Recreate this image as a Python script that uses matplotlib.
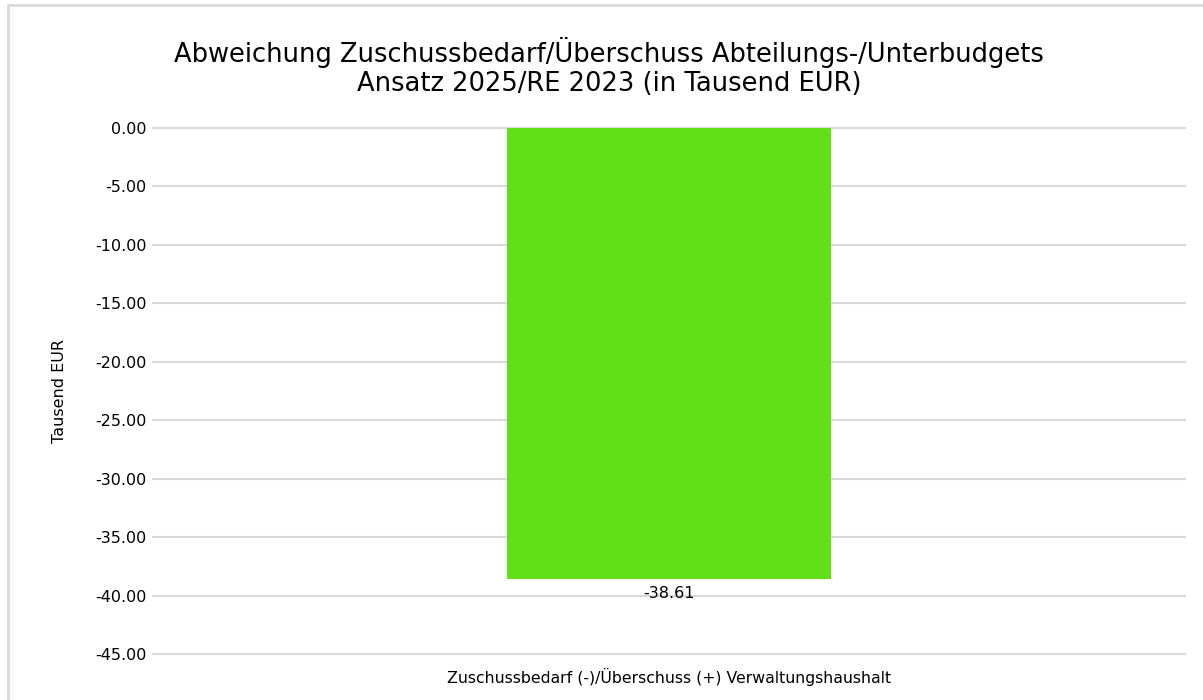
import matplotlib.pyplot as plt
from matplotlib.patches import Rectangle

categories = ["Zuschussbedarf (-)/Überschuss (+) Verwaltungshaushalt"]
values = [-38.61]
yticks = [0, -5, -10, -15, -20, -25, -30, -35, -40, -45]

fig = plt.figure(figsize=(12.03, 7.0), dpi=100)
W, H = 1203, 700
ax = fig.add_axes([153 / W, 1 - 654 / H, (1185 - 153) / W, (654 - 128) / H])

# light frame round the whole chart
fig.patches.append(Rectangle((8 / W, -0.01), 1.0, 1 - 5 / H + 0.01,
                             transform=fig.transFigure, fill=False,
                             edgecolor="#d9d9d9", linewidth=2))

ax.bar([0], values, width=0.314, color="#62df18", zorder=2)
ax.set_xlim(-0.5, 0.5)
ax.set_ylim(-45, 0)
ax.set_yticks(yticks)
ax.set_yticklabels([f"{v:.2f}" for v in yticks], fontsize=11.5)
ax.set_xticks([])
ax.tick_params(axis="y", length=0, pad=4.5)
ax.grid(axis="y", color="#d9d9d9", linewidth=1.5, zorder=0)
for gl in ax.get_ygridlines():
    gl.set_clip_on(False)
for s in ax.spines.values():
    s.set_visible(False)

for i, v in enumerate(values):
    ax.annotate(f"{v:.2f}", (i, v), xytext=(0, -5), textcoords="offset points",
                ha="center", va="top", fontsize=11.5)

ax.set_ylabel("Tausend EUR", fontsize=11.5, labelpad=20)
ax.text(0, -47, categories[0], ha="center", va="center", fontsize=11.3)

fig.text(609 / W, 1 - 67 / H,
         "Abweichung Zuschussbedarf/Überschuss Abteilungs-/Unterbudgets\nAnsatz 2025/RE 2023 (in Tausend EUR)",
         ha="center", va="center", fontsize=18.5, linespacing=1.15)

fig.savefig("out.png", dpi=100)
